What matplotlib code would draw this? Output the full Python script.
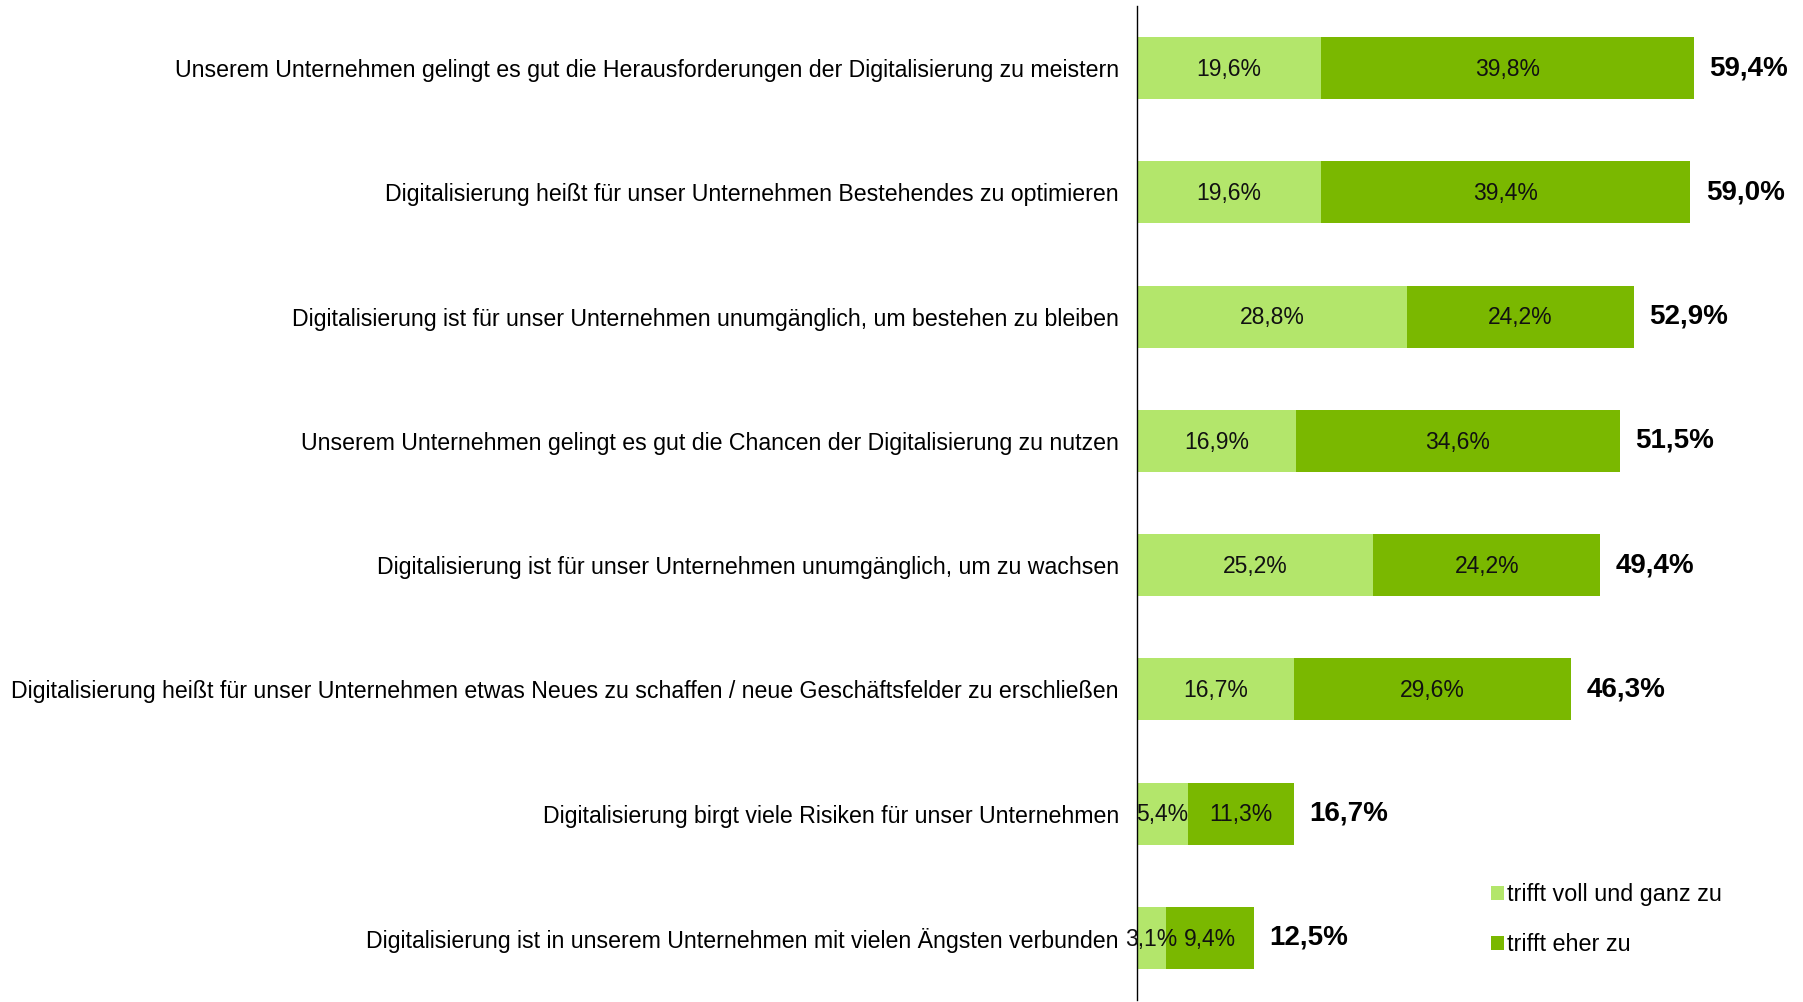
import matplotlib
matplotlib.use("Agg")
import matplotlib.pyplot as plt
import numpy as np

categories = [
    "Unserem Unternehmen gelingt es gut die Herausforderungen der Digitalisierung zu meistern",
    "Digitalisierung heißt für unser Unternehmen Bestehendes zu optimieren",
    "Digitalisierung ist für unser Unternehmen unumgänglich, um bestehen zu bleiben",
    "Unserem Unternehmen gelingt es gut die Chancen der Digitalisierung zu nutzen",
    "Digitalisierung ist für unser Unternehmen unumgänglich, um zu wachsen",
    "Digitalisierung heißt für unser Unternehmen etwas Neues zu schaffen / neue Geschäftsfelder zu erschließen",
    "Digitalisierung birgt viele Risiken für unser Unternehmen",
    "Digitalisierung ist in unserem Unternehmen mit vielen Ängsten verbunden",
]
voll = [19.6, 19.6, 28.8, 16.9, 25.2, 16.7, 5.4, 3.1]
eher = [39.8, 39.4, 24.2, 34.6, 24.2, 29.6, 11.3, 9.4]
totals = [59.4, 59.0, 52.9, 51.5, 49.4, 46.3, 16.7, 12.5]
series_names = ["trifft voll und ganz zu", "trifft eher zu"]

plt.rcParams['font.family'] = ['Liberation Sans', 'DejaVu Sans']

c_light = "#B3E66B"
c_dark = "#7AB800"

fig = plt.figure(figsize=(18.03, 10.02), dpi=100)
ax = fig.add_axes([1137/1803, 2/1002, 1 - 1137/1803, 994/1002])

y = np.arange(len(categories))
h = 0.5
b1 = ax.barh(y, voll, height=h, color=c_light, label=series_names[0])
b2 = ax.barh(y, eher, left=voll, height=h, color=c_dark, label=series_names[1])

def fmt(v):
    return f"{v:.1f}".replace(".", ",") + "%"

for i in range(len(categories)):
    ax.text(voll[i] / 2, y[i] + 0.01, fmt(voll[i]), ha="center", va="center", fontsize=16.5, color="#111111")
    ax.text(voll[i] + eher[i] / 2, y[i] + 0.01, fmt(eher[i]), ha="center", va="center", fontsize=16.5, color="#111111")
    ax.annotate(fmt(totals[i]), xy=(voll[i] + eher[i], y[i]), xytext=(11, 0),
                textcoords="offset points", ha="left", va="center",
                fontsize=20, fontweight="bold", color="black")

ax.set_xlim(0, 71)
ax.set_ylim(len(categories) - 0.5, -0.5)
ax.set_yticks(y)
ax.set_yticklabels(categories, fontsize=16.7)
ax.tick_params(axis="y", length=0, pad=13)
ax.set_xticks([])
for s in ["top", "right", "bottom"]:
    ax.spines[s].set_visible(False)
ax.spines["left"].set_linewidth(1.0)
ax.spines["left"].set_color("black")

leg = ax.legend(loc="upper left", bbox_to_anchor=((1482 - 1137) / 666, (1002 - 876) / 994),
                frameon=False, fontsize=16.8, handlelength=0.55, handleheight=0.55,
                handletextpad=0.12, labelspacing=1.15, borderaxespad=0)

fig.savefig("out.png", dpi=100)
